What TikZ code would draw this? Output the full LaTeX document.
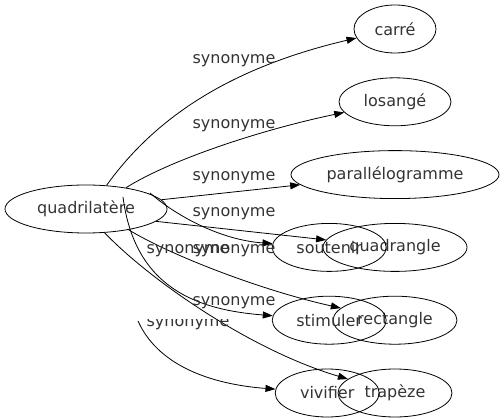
\documentclass[tikz,border=0pt]{standalone}
\usepackage{fontspec}
\setmainfont{DejaVu Sans}
\usetikzlibrary{arrows.meta,positioning,shapes.geometric}

\tikzset{
  word/.style={ellipse,draw,minimum height=48pt,inner sep=0pt,text=black!80},
  syn/.style={-{Triangle[length=10pt,width=7pt]}},
  lbl/.style={inner sep=0pt,text=black!80}
}

\begin{document}
\begin{tikzpicture}[x=1pt,y=-1pt,line width=0.8pt,font=\fontsize{16}{19}\selectfont]
        \useasboundingbox (0,0) rectangle (503,419);

        \node[word,minimum width=162pt] (quad) at (86,209) {quadrilatère};
        \node[word,minimum width=82pt] (carre) at (395,29) {carré};
        \node[word,minimum width=112pt] (losange) [below=24pt of carre] {losangé};
        \node[word,minimum width=208pt] (para) [below=24pt of losange] {parallélogramme};
        \node[word,minimum width=144pt] (quadrangle) [below=24pt of para] {quadrangle};
        \node[word,minimum width=124pt] (rectangle) [below=24pt of quadrangle] {rectangle};
        \node[word,minimum width=114pt] (trapeze) [below=24pt of rectangle] {trapèze};
        \node[word,minimum width=114pt] (soutenir) [left=-64pt of quadrangle] {soutenir};
        \node[word,minimum width=114pt] (stimuler) [left=-54pt of rectangle] {stimuler};
        \node[word,minimum width=104pt] (vivifier) [left=-42pt of trapeze] {vivifier};

        \coordinate (s1) at (150,193);
        \coordinate (s2) at (123,197);
        \coordinate (s3) at (138,321);

        % synonyme edges
        \draw[syn] (quad.49) .. controls (150,125) and (220,70) .. (carre);
        \draw[syn] (quad.28) .. controls (170,160) and (260,130) .. (losange);
        \draw[syn] (quad.7) -- (para);
        \draw[syn] (quad.-10) -- (quadrangle);
        \draw[syn] (quad.-26) .. controls (170,255) and (260,290) .. (rectangle);
        \draw[syn] (quad.-52) .. controls (150,280) and (250,350) .. (trapeze);
        \draw[syn] (s1) .. controls (175,215) and (220,240) .. (soutenir);
        \draw[syn] (s2) .. controls (135,290) and (200,310) .. (stimuler);
        \draw[syn] (s3) .. controls (160,370) and (220,385) .. (vivifier);

        \node[lbl] (l1) at (234,61) {synonyme};
        \node[lbl] (l2) at (234,126) {synonyme};
        \node[lbl] (l3) at (234,178) {synonyme};
        \node[lbl] (l4) at (234,214) {synonyme};
        \node[lbl] (l5) at (234,251) {synonyme};
        \node[lbl] (l6) at (188,251) {synonyme};
        \node[lbl] (l7) at (234,303) {synonyme};
        \begin{scope}
          \clip (0,320) rectangle (503,419);
          \node[lbl] (l8) at (188,324) {synonyme};
        \end{scope}
\end{tikzpicture}
\end{document}
